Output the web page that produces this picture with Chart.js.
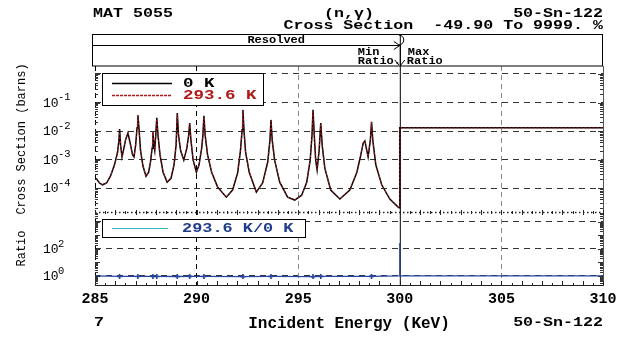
<!DOCTYPE html>
<html>
<head>
<meta charset="utf-8">
<script src="https://cdn.jsdelivr.net/npm/chart.js@4.4.1/dist/chart.umd.min.js"></script>
<style>
html,body{margin:0;padding:0;background:#fff}
#wrap{width:626px;height:337px}
</style>
</head>
<body>
<div id="wrap"><canvas id="c"></canvas></div>
<script>
// incident energy (keV) and cross sections (barns)
const ENERGY = [285.05,285.22,285.37,285.57,285.76,285.96,286.11,286.18,286.21,286.26,286.33,286.40,286.50,286.62,286.72,286.85,286.92,287.00,287.07,287.11,287.17,287.24,287.36,287.51,287.64,287.73,287.81,287.85,287.90,287.94,287.99,288.04,288.10,288.20,288.35,288.55,288.74,288.89,288.99,289.05,289.11,289.21,289.37,289.52,289.61,289.66,289.72,289.83,289.99,290.12,290.25,290.31,290.36,290.42,290.54,290.74,291.03,291.46,291.77,292.02,292.16,292.24,292.28,292.33,292.41,292.59,292.94,293.25,293.50,293.61,293.66,293.72,293.84,294.09,294.48,294.83,295.17,295.42,295.59,295.68,295.73,295.79,295.86,295.93,296.03,296.11,296.18,296.31,296.60,297.05,297.54,297.89,298.08,298.20,298.28,298.44,298.55,298.61,298.67,298.82,299.11,299.51,299.93,300.00,300.00,310.00];
const XS_0K = [2.2e-4,1.5e-4,1.3e-4,1.5e-4,2.6e-4,6.5e-4,1.8e-3,4.8e-3,1.17e-2,3.2e-3,1.23e-3,2.1e-3,4.8e-3,8.5e-3,4.1e-3,1.45e-3,1.23e-3,3.2e-3,1.3e-2,3.6e-2,1.1e-2,2.1e-3,5.9e-4,2.6e-4,3.6e-4,8.1e-4,2.5e-3,9.1e-3,3.2e-3,2.1e-3,7.2e-3,2.9e-2,7.2e-3,1.45e-3,3.6e-4,1.6e-4,2.2e-4,6.5e-4,3.2e-3,4.3e-2,7.2e-3,2.1e-3,9.5e-4,2.5e-3,7.2e-3,1.9e-2,4.8e-3,9.5e-4,3.6e-4,6.5e-4,2.5e-3,7.2e-3,3.4e-2,7.2e-3,1.45e-3,3.6e-4,1.1e-4,4.8e-5,8.5e-5,3.4e-4,2.1e-3,1.1e-2,5.5e-2,1.1e-2,1.8e-3,3.6e-4,7.2e-5,1.5e-4,8.1e-4,4.8e-3,2.45e-2,4.8e-3,9.5e-4,1.6e-4,4.8e-5,3.8e-5,5.6e-5,1.6e-4,9.5e-4,7.2e-3,5.5e-2,7.2e-3,9.5e-4,4.3e-4,2.1e-3,1.9e-2,3.2e-3,5.0e-4,8.5e-5,4.1e-5,8.5e-5,3.6e-4,1.45e-3,3.8e-3,4.5e-3,1.23e-3,4.8e-3,2.1e-2,4.8e-3,6.5e-4,1.3e-4,4.1e-5,2.1e-5,2.0e-5,1.29e-2,1.29e-2];
const XS_293K = [2.2e-4,1.5e-4,1.3e-4,1.5e-4,2.6e-4,6.5e-4,1.8e-3,4.7e-3,1.08e-2,3.2e-3,1.24e-3,2.1e-3,4.8e-3,8.3e-3,4.1e-3,1.46e-3,1.24e-3,3.2e-3,1.25e-2,3.3e-2,1.07e-2,2.1e-3,5.9e-4,2.6e-4,3.6e-4,8.1e-4,2.5e-3,8.6e-3,3.2e-3,2.2e-3,7.0e-3,2.7e-2,7.0e-3,1.45e-3,3.6e-4,1.6e-4,2.2e-4,6.5e-4,3.2e-3,3.9e-2,7.0e-3,2.1e-3,9.5e-4,2.5e-3,7.0e-3,1.8e-2,4.8e-3,9.5e-4,3.6e-4,6.5e-4,2.5e-3,7.0e-3,3.1e-2,7.0e-3,1.45e-3,3.6e-4,1.1e-4,4.8e-5,8.5e-5,3.4e-4,2.1e-3,1.07e-2,4.9e-2,1.07e-2,1.8e-3,3.6e-4,7.2e-5,1.5e-4,8.1e-4,4.7e-3,2.3e-2,4.7e-3,9.5e-4,1.6e-4,4.8e-5,3.8e-5,5.6e-5,1.6e-4,9.5e-4,7.0e-3,4.9e-2,7.0e-3,9.6e-4,4.4e-4,2.1e-3,1.8e-2,3.2e-3,5.0e-4,8.5e-5,4.1e-5,8.5e-5,3.6e-4,1.45e-3,3.8e-3,4.4e-3,1.25e-3,4.7e-3,2.0e-2,4.7e-3,6.5e-4,1.3e-4,4.1e-5,2.1e-5,2.0e-5,1.29e-2,1.29e-2];

// ratio 293.6 K / 0 K
const RATIO_E = [285,286.21,287.11,287.85,288.04,289.05,289.66,290.36,292.28,293.66,295.73,296.11,298.61,299.99,300,300.01,310];
const RATIO = [1,0.92,0.92,0.93,0.92,0.91,0.93,0.92,0.9,0.93,0.9,0.93,0.93,1,280,1,1];

const XS_TICKS = [1,1e-1,1e-2,1e-3,1e-4];
const XS_LABELED = [1e-1,1e-2,1e-3,1e-4];
const RATIO_TICKS = [1,1e2,1e4];
const RATIO_LABELED = [1,1e2];
const X_TICKS = [285,290,295,300,305,310];

const MONO = '"Liberation Mono", "DejaVu Sans Mono", monospace';
const C = { ink:"#000", red:"#b01818", blue:"#2646a0", cyan:"#3fb4c8", legBlue:"#1f3c8c", grid:"#333", gray:"#8a8a8a" };

const pts = (xs, ys) => xs.map((x,i)=>({x, y:ys[i]}));

// stretched typewriter-like text
function txt(ctx, s, x, y, o){
  o = o || {};
  const size = o.size || 12, sx = o.sx || 1;
  ctx.save();
  ctx.font = (o.weight||'normal') + ' ' + size + 'px ' + MONO;
  ctx.fillStyle = o.color || C.ink;
  ctx.textBaseline = 'middle';
  ctx.textAlign = 'left';
  const w = ctx.measureText(s).width * sx;
  const x0 = o.align==='right' ? x-w : o.align==='center' ? x-w/2 : x;
  ctx.translate(x0, y); ctx.scale(sx, 1);
  ctx.fillText(s, 0, 0);
  ctx.restore();
}
function line(ctx, x1, y1, x2, y2, color, width, dash){
  ctx.save();
  ctx.strokeStyle = color || C.ink; ctx.lineWidth = width || 1;
  ctx.setLineDash(dash || []);
  ctx.beginPath(); ctx.moveTo(x1,y1); ctx.lineTo(x2,y2); ctx.stroke();
  ctx.restore();
}

const decor = {
  id:'decor',
  beforeDatasetsDraw(chart){
    const {ctx, chartArea:a, scales} = chart;
    const x300 = scales.x.getPixelForValue(300);
    const sep = scales.yr.top;
    // boundary at 300 keV, right frame, panel separator
    line(ctx, x300+0.5, 45.5, x300+0.5, a.bottom, C.ink, 1);
    line(ctx, a.right+0.5, a.top, a.right+0.5, a.bottom, '#555', 1);
    line(ctx, a.left, sep+0.5, a.right, sep+0.5, '#222', 1.3, [1.5,2.5]);
  },
  afterDraw(chart){
    const {ctx, chartArea:a, scales} = chart;
    const x300 = scales.x.getPixelForValue(300);
    const sep = scales.yr.top;

    // page titles
    txt(ctx, 'MAT 5055', a.left-2, 13.5, {size:13, sx:1.28, weight:'bold'});
    txt(ctx, '(n,\u03B3)', (a.left+a.right)/2, 13.5, {size:13, sx:1.28, weight:'bold', align:'center'});
    txt(ctx, '50-Sn-122', a.right, 13.5, {size:13, sx:1.28, weight:'bold', align:'right'});
    txt(ctx, 'Cross Section  -49.90 To 9999. %', a.right, 25.5, {size:13, sx:1.28, weight:'bold', align:'right'});

    // resolved / ratio header box
    ctx.save(); ctx.strokeStyle = C.ink; ctx.lineWidth = 1;
    ctx.strokeRect(a.left-2.5, 34.5, a.right-a.left+2, a.top-34.5);
    ctx.restore();
    line(ctx, a.left-2, 45.5, x300, 45.5);
    line(ctx, x300-6, 41.5, x300, 45.5); line(ctx, x300-6, 49.5, x300, 45.5);
    ctx.save(); ctx.strokeStyle = C.ink; ctx.lineWidth = 1;
    ctx.beginPath(); ctx.arc(x300-1, 40, 5, -Math.PI/2, Math.PI/2); ctx.stroke();
    ctx.restore();
    line(ctx, x300+0.5, 34.5, x300+0.5, a.top, C.ink, 1);
    txt(ctx, 'Resolved', (a.left+x300)/2, 40, {size:10, sx:1.2, weight:'bold'});
    txt(ctx, 'Min', x300-42, 52.5, {size:10, sx:1.2, weight:'bold'});
    txt(ctx, 'Ratio.', x300-42, 61.5, {size:10, sx:1.2, weight:'bold'});
    txt(ctx, 'Max', x300+8, 52.5, {size:10, sx:1.2, weight:'bold'});
    txt(ctx, 'Ratio', x300+7, 61.5, {size:10, sx:1.2, weight:'bold'});
    line(ctx, x300-5, 60, x300-1, 65); line(ctx, x300+5, 60, x300+1, 65);

    // minor ticks
    for (let e = 285; e <= 310; e += 0.5){
      const px = Math.round(scales.x.getPixelForValue(e))+0.5;
      const h = (e % 1 === 0) ? 4 : 2;
      line(ctx, px, a.bottom, px, a.bottom-h, '#222', 1);
      line(ctx, px, sep-h/2, px, sep+h/2+1, '#222', 1);
    }
    [['y',-5,0],['yr',-1,4]].forEach(([id,lo,hi])=>{
      const s = scales[id];
      for (let d = lo; d <= hi; d++){
        for (let m = 1; m < 10; m++){
          const v = m*Math.pow(10,d);
          if (v < s.min || v > s.max) continue;
          const py = Math.round(s.getPixelForValue(v))+0.5;
          const w = m===1 ? 5 : 3;
          line(ctx, a.left, py, a.left+w, py, '#333', 1);
          line(ctx, a.right-w, py, a.right, py, '#333', 1);
        }
      }
    });

    // decade labels with raised exponents
    [['y',XS_LABELED],['yr',RATIO_LABELED]].forEach(([id,vals])=>{
      const s = scales[id];
      vals.forEach(v=>{
        const py = s.getPixelForValue(v);
        const e = String(Math.round(Math.log10(v)));
        txt(ctx, '10', 43, py+1, {size:13, sx:1.0});
        txt(ctx, e, 58, py-5, {size:10.5, sx:1.0});
      });
    });

    // legend boxes
    const d = chart.data.datasets;
    ctx.save(); ctx.fillStyle = '#fff'; ctx.strokeStyle = C.ink; ctx.lineWidth = 1;
    ctx.fillRect(102, 73, 161, 32); ctx.strokeRect(102.5, 73.5, 161, 32);
    ctx.fillRect(102, 219, 203, 18); ctx.strokeRect(102.5, 219.5, 203, 18);
    ctx.restore();
    line(ctx, 112, 83.5, 172, 83.5, d[0].borderColor, 1.5);
    txt(ctx, d[0].label, 183, 83.5, {size:12.5, sx:1.4, weight:'bold', color:C.ink});
    line(ctx, 112, 95.5, 172, 95.5, d[1].borderColor, 1.3, [3,1]);
    txt(ctx, d[1].label, 183, 95.5, {size:12.5, sx:1.4, weight:'bold', color:C.red});
    line(ctx, 112, 228.5, 168, 228.5, C.cyan, 1.2);
    txt(ctx, d[2].label, 182, 228.5, {size:12.5, sx:1.35, weight:'bold', color:C.legBlue});

    // footer
    txt(ctx, '7', a.left-1, 323, {size:13, sx:1.28, weight:'bold'});
    txt(ctx, '50-Sn-122', a.right, 323, {size:13, sx:1.28, weight:'bold', align:'right'});
  }
};

const xGridColor = ctx => {
  const v = ctx.tick && ctx.tick.value;
  if (v === 285 || v === 290) return C.ink;
  if (v === 295 || v === 305) return C.gray;
  return 'rgba(0,0,0,0)';
};

new Chart(document.getElementById('c'), {
  type:'line',
  data:{
    datasets:[
      { label:'0 K', data:pts(ENERGY, XS_0K), yAxisID:'y', borderColor:C.ink, borderWidth:1.5, pointRadius:0, order:1 },
      { label:'293.6 K', data:pts(ENERGY, XS_293K), yAxisID:'y', borderColor:C.red, borderWidth:1, borderDash:[2,2], pointRadius:0, order:0 },
      { label:'293.6 K/0 K', data:pts(RATIO_E, RATIO), yAxisID:'yr', borderColor:C.blue, borderWidth:1.3,
        pointStyle:'cross', pointRadius:c => RATIO[c.dataIndex] < 1 ? 2.5 : 0, pointBorderColor:C.blue, pointBorderWidth:1.6, order:2 }
    ]
  },
  options:{
    responsive:true, maintainAspectRatio:false, animation:false,
    layout:{ padding:{ top:66, right:23, left:0, bottom:0 } },
    plugins:{ legend:{ display:false }, tooltip:{ enabled:false } },
    scales:{
      yr:{
        type:'logarithmic', position:'left', stack:'v', stackWeight:73,
        min:Math.pow(10,-0.67), max:Math.pow(10,4.74),
        afterBuildTicks:s => { s.ticks = RATIO_TICKS.map(v=>({value:v})); },
        afterFit:s => { s.width = 95; },
        ticks:{ display:false },
        grid:{ color:C.grid, drawTicks:false, lineWidth:1 },
        border:{ display:false, dash:[6,5] },
        title:{ display:true, text:'Ratio', font:{ family:MONO, size:12 }, color:C.ink, padding:{ top:15, bottom:0 } }
      },
      y:{
        type:'logarithmic', position:'left', stack:'v', stackWeight:146,
        min:Math.pow(10,-4.84), max:Math.pow(10,0.28),
        afterBuildTicks:s => { s.ticks = XS_TICKS.map(v=>({value:v})); },
        afterFit:s => { s.width = 95; },
        ticks:{ display:false },
        grid:{ color:C.grid, drawTicks:false, lineWidth:1 },
        border:{ display:false, dash:[6,5] },
        title:{ display:true, text:'Cross Section (barns)', font:{ family:MONO, size:12 }, color:C.ink, padding:{ top:15, bottom:0 } }
      },
      x:{
        type:'linear', min:285, max:310,
        afterBuildTicks:s => { s.ticks = X_TICKS.map(v=>({value:v})); },
        afterFit:s => { s.height = 52; },
        ticks:{ font:{ family:MONO, size:15, weight:'bold' }, color:C.ink, padding:5, maxRotation:0 },
        grid:{ color:xGridColor, drawTicks:false, lineWidth:1 },
        border:{ display:true, color:'#222', width:1, dash:[5,4] },
        title:{ display:true, text:'Incident Energy (KeV)', font:{ family:MONO, size:16, weight:'bold' }, color:C.ink, padding:{ top:0, bottom:3 } }
      }
    }
  },
  plugins:[decor]
});
</script>
</body>
</html>
